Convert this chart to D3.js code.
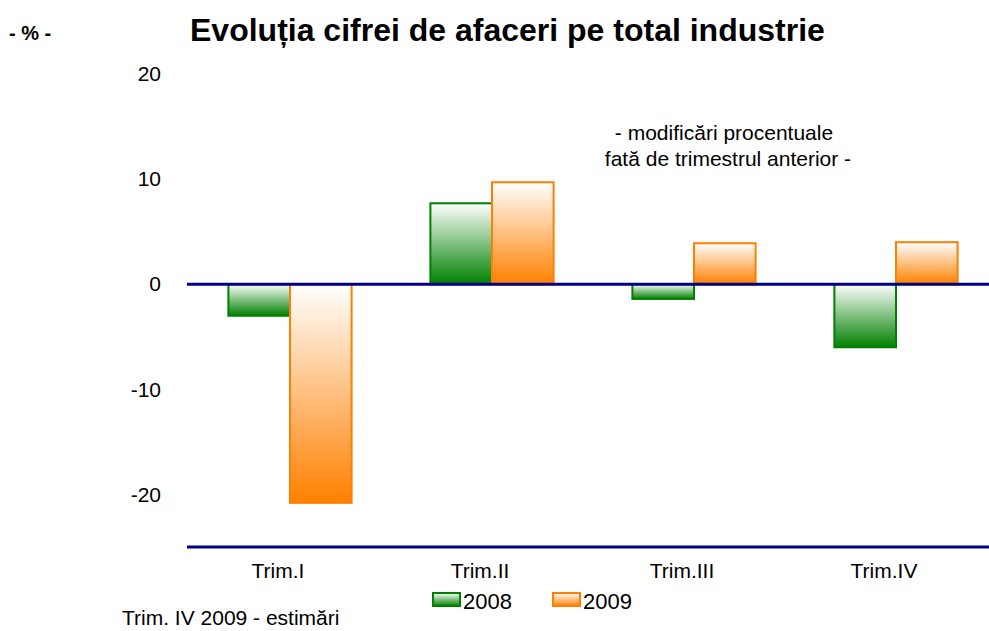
<!DOCTYPE html>
<html>
<head>
<meta charset="utf-8">
<script src="https://cdn.jsdelivr.net/npm/d3@7/dist/d3.min.js"></script>
<style>
    body { margin: 0; background: #fff; }
    text { font-family: "Liberation Sans", Arial, sans-serif; fill: #000; }
</style>
</head>
<body>
<script>
//^^^^^^^^^^^^^^^^^^^^^^^^^^^^^^^^^^^^^^^^^^^^^^^^^^^^^^^^^^^^^^^^^^^^^^^^^^^^^^
// Data
//------------------------------------------------------------------------------
var categories = ["Trim.I", "Trim.II", "Trim.III", "Trim.IV"],
    seriesNames = ["2008", "2009"],
    values2008 = [-3.0, 7.7, -1.4, -6.0],
    values2009 = [-20.8, 9.7, 3.9, 4.0],
    yTicks = [20, 10, 0, -10, -20];

var colors = { "2008": "#008000", "2009": "#ff8000" };

var width = 989, height = 631;

var svg = d3.select("body").append("svg")
    .attr("width", width)
    .attr("height", height);

var defs = svg.append("defs");

//^^^^^^^^^^^^^^^^^^^^^^^^^^^^^^^^^^^^^^^^^^^^^^^^^^^^^^^^^^^^^^^^^^^^^^^^^^^^^^
// White-to-colour vertical gradients, one per series
//------------------------------------------------------------------------------
seriesNames.forEach(function(s) {
    var g = defs.append("linearGradient")
        .attr("id", "grad_" + s)
        .attr("x1", 0).attr("y1", 0)
        .attr("x2", 0).attr("y2", 1);
    g.append("stop").attr("offset", "0%").attr("stop-color", "#ffffff");
    g.append("stop").attr("offset", "100%").attr("stop-color", colors[s]);
});

var y = d3.scaleLinear()
    .domain([-25, 20])
    .range([547, 74]);

var x0 = d3.scaleBand()
    .domain(categories)
    .range([189, 997])
    .paddingInner(0.39)
    .paddingOuter(0.195);

var x1 = d3.scaleBand()
    .domain(seriesNames)
    .range([0, x0.bandwidth()]);

var rows = categories.map(function(c, i) {
    return { cat: c, vals: [
        { s: "2008", v: values2008[i] },
        { s: "2009", v: values2009[i] }
    ] };
});

//^^^^^^^^^^^^^^^^^^^^^^^^^^^^^^^^^^^^^^^^^^^^^^^^^^^^^^^^^^^^^^^^^^^^^^^^^^^^^^
// Bars
//------------------------------------------------------------------------------
var groups = svg.selectAll("g.cat")
    .data(rows)
    .enter().append("g")
    .attr("class", "cat")
    .attr("transform", function(d) { return "translate(" + x0(d.cat) + ",0)"; });

groups.selectAll("rect")
    .data(function(d) { return d.vals; })
    .enter().append("rect")
    .attr("x", function(d) { return x1(d.s); })
    .attr("y", function(d) { return y(Math.max(0, d.v)); })
    .attr("width", x1.bandwidth())
    .attr("height", function(d) { return Math.abs(y(d.v) - y(0)); })
    .attr("fill", function(d) { return "url(#grad_" + d.s + ")"; })
    .attr("stroke", function(d) { return colors[d.s]; })
    .attr("stroke-width", 2);

//^^^^^^^^^^^^^^^^^^^^^^^^^^^^^^^^^^^^^^^^^^^^^^^^^^^^^^^^^^^^^^^^^^^^^^^^^^^^^^
// Zero line and bottom line
//------------------------------------------------------------------------------
svg.append("line")
    .attr("x1", 187).attr("x2", 989)
    .attr("y1", y(0)).attr("y2", y(0))
    .attr("stroke", "#000080")
    .attr("stroke-width", 3);

svg.append("line")
    .attr("x1", 187).attr("x2", 989)
    .attr("y1", y(-25)).attr("y2", y(-25))
    .attr("stroke", "#000080")
    .attr("stroke-width", 3);

//^^^^^^^^^^^^^^^^^^^^^^^^^^^^^^^^^^^^^^^^^^^^^^^^^^^^^^^^^^^^^^^^^^^^^^^^^^^^^^
// Axes (labels only)
//------------------------------------------------------------------------------
var yAxis = svg.append("g")
    .attr("transform", "translate(161,0)")
    .call(d3.axisLeft(y).tickValues(yTicks).tickSize(0).tickPadding(0)
        .tickFormat(function(d) { return String(d); }));
yAxis.select(".domain").remove();
yAxis.selectAll("text")
    .attr("font-size", 21)
    .attr("font-family", "Liberation Sans, Arial, sans-serif");

var xAxis = svg.append("g")
    .attr("transform", "translate(-12," + y(-25) + ")")
    .call(d3.axisBottom(x0).tickSize(0).tickPadding(16));
xAxis.select(".domain").remove();
xAxis.selectAll("text")
    .attr("font-size", 21)
    .attr("font-family", "Liberation Sans, Arial, sans-serif");

//^^^^^^^^^^^^^^^^^^^^^^^^^^^^^^^^^^^^^^^^^^^^^^^^^^^^^^^^^^^^^^^^^^^^^^^^^^^^^^
// Titles and notes
//------------------------------------------------------------------------------
svg.append("text")
    .attr("x", 9).attr("y", 40)
    .attr("font-size", 20)
    .attr("font-weight", "bold")
    .attr("xml:space", "preserve")
    .text("- % -");

svg.append("text")
    .attr("x", 190).attr("y", 41)
    .attr("font-size", 32)
    .attr("font-weight", "bold")
    .text("Evoluția cifrei de afaceri pe total industrie");

svg.append("text")
    .attr("x", 724).attr("y", 140)
    .attr("text-anchor", "middle")
    .attr("font-size", 21)
    .text("- modificări procentuale");

svg.append("text")
    .attr("x", 728).attr("y", 166)
    .attr("text-anchor", "middle")
    .attr("font-size", 21)
    .text("fată de trimestrul anterior -");

svg.append("text")
    .attr("x", 122).attr("y", 625)
    .attr("font-size", 21)
    .text("Trim. IV 2009 - estimări");

//^^^^^^^^^^^^^^^^^^^^^^^^^^^^^^^^^^^^^^^^^^^^^^^^^^^^^^^^^^^^^^^^^^^^^^^^^^^^^^
// Legend
//------------------------------------------------------------------------------
var legend = svg.selectAll("g.legend")
    .data(seriesNames)
    .enter().append("g")
    .attr("class", "legend")
    .attr("transform", function(d, i) { return "translate(" + (433 + i * 120) + ",593)"; });

legend.append("rect")
    .attr("width", 27).attr("height", 13)
    .attr("fill", function(d) { return "url(#grad_" + d + ")"; })
    .attr("stroke", function(d) { return colors[d]; })
    .attr("stroke-width", 2);

legend.append("text")
    .attr("x", 30).attr("y", 16)
    .attr("font-size", 22)
    .text(function(d) { return d; });
</script>
</body>
</html>
